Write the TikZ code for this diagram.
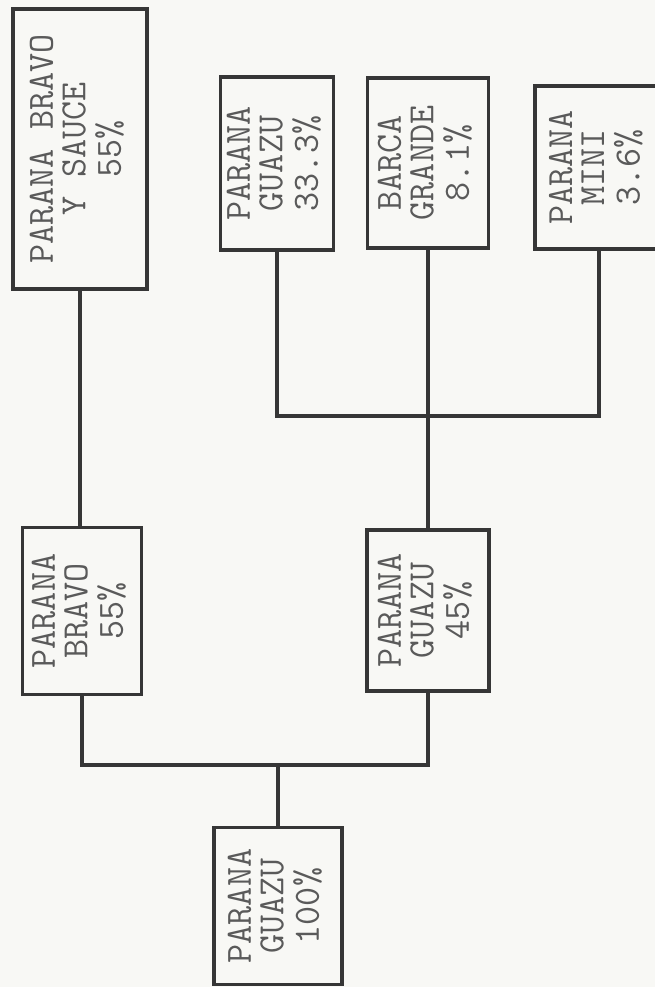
\documentclass[tikz,border=0pt]{standalone}
\usepackage{fontspec}
\definecolor{paper}{HTML}{F8F8F5}
\definecolor{ink}{HTML}{363636}
\definecolor{txt}{HTML}{5A5A5A}
\newcommand{\boxtext}[1]{\rotatebox{90}{\begin{tabular}{@{}c@{}}#1\end{tabular}}}
\tikzset{
  river/.style={draw=ink, line width=3.6pt, fill=paper, inner sep=0pt,
    text=txt, font=\ttfamily\fontsize{37}{32}\selectfont},
  link/.style={draw=ink, line width=3.2pt}
}
\begin{document}
\begin{tikzpicture}[x=1pt,y=-1pt]
\useasboundingbox (0,0) rectangle (655,987);
\fill[paper] (0,0) rectangle (655,987);
\begin{scope}
\clip (0,0) rectangle (655,987);
% boxes
\node[river, minimum width=134pt, minimum height=280pt] (b1) at (80,149) {\boxtext{PARANA BRAVO\\Y SAUCE\\55\%}};
\node[river, minimum width=119pt, minimum height=167pt] (pb) at (82,611) {\boxtext{PARANA\\BRAVO\\55\%}};
\node[river, minimum width=122pt, minimum height=161pt] (pg45) at (428,610.5) {\boxtext{PARANA\\GUAZU\\45\%}};
\node[river, minimum width=128pt, minimum height=157pt] (pg100) at (278,906) {\boxtext{PARANA\\GUAZU\\100\%}};
\node[river, minimum width=113pt, minimum height=173pt] (pg33) at (277,163.5) {\boxtext{PARANA\\GUAZU\\33.3\%}};
\node[river, minimum width=121pt, minimum height=170pt] (bg) at (428,163) {\boxtext{BARCA\\GRANDE\\8.1\%}};
\node[river, minimum width=128pt, minimum height=163pt] (pm) at (599,167.5) {\boxtext{PARANA\\MINI\\3.6\%}};
% junctions
\coordinate (j1) at (428,416);
\coordinate (j2) at (278,765);
% connectors
\draw[link] (b1.south) -- (b1.south |- pb.north);
\draw[link] (pg33.south) |- (pm.south |- j1) -- (pm.south);
\draw[link] (bg.south) -- (pg45.north);
\draw[link] (pb.south) |- (pg45.south |- j2) -- (pg45.south);
\draw[link] (j2) -- (pg100.north);
\end{scope}
\end{tikzpicture}
\end{document}
